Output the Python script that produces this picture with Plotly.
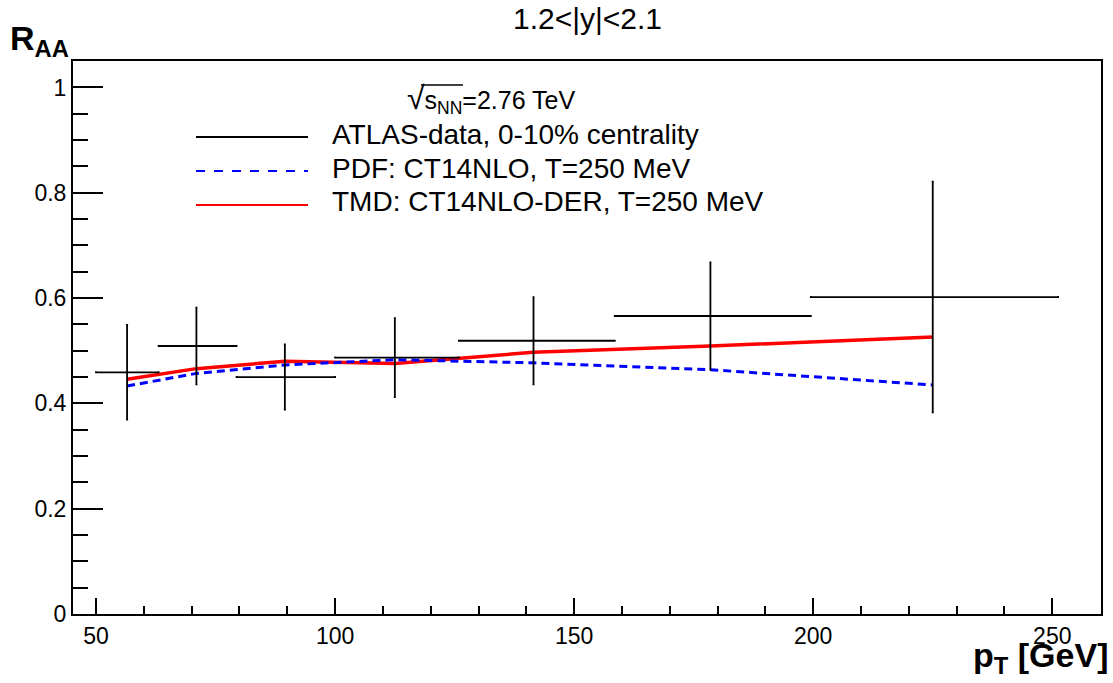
import plotly.graph_objects as go

# ---------------- data ----------------
pt_lo = [50.0, 63.1, 79.4, 100.0, 125.9, 158.5, 199.5]
pt_hi = [63.1, 79.4, 100.0, 125.9, 158.5, 199.5, 251.2]
pt_c = [56.5, 71.0, 89.5, 112.5, 141.5, 178.5, 225.0]
raa = [0.459, 0.509, 0.450, 0.487, 0.519, 0.566, 0.602]
raa_err = [0.090, 0.073, 0.062, 0.075, 0.083, 0.102, 0.219]
pdf_ct14 = [0.433, 0.457, 0.473, 0.483, 0.477, 0.464, 0.435]
tmd_der = [0.446, 0.466, 0.480, 0.476, 0.497, 0.509, 0.526]

x_ticks = [50, 100, 150, 200, 250]
legend_labels = ["ATLAS-data, 0-10% centrality",
                 "PDF: CT14NLO, T=250 MeV",
                 "TMD: CT14NLO-DER, T=250 MeV"]

# ---------------- layout geometry ----------------
W, H = 1113, 683
ML, MR, MT, MB = 73, 12, 61, 69
PW, PH = W - ML - MR, H - MT - MB


def px(x):
    return (x - ML) / PW


def py(y):
    return (H - MB - y) / PH


FONT = "Liberation Sans, Arial, Helvetica, sans-serif"

fig = go.Figure()

fig.add_trace(go.Scatter(
    x=pt_c, y=tmd_der, mode="lines",
    line=dict(color="#ff0000", width=3.5),
    showlegend=False, hoverinfo="skip"))
fig.add_trace(go.Scatter(
    x=pt_c, y=pdf_ct14, mode="lines",
    line=dict(color="#0000ff", width=3, dash="8px,5px"),
    showlegend=False, hoverinfo="skip"))

err_plus = [h - c for h, c in zip(pt_hi, pt_c)]
err_minus = [c - l for l, c in zip(pt_lo, pt_c)]
fig.add_trace(go.Scatter(
    x=pt_c, y=raa, mode="markers",
    marker=dict(color="black", size=1),
    error_x=dict(type="data", symmetric=False, array=err_plus,
                 arrayminus=err_minus, color="black", thickness=1.8, width=1),
    error_y=dict(type="data", array=raa_err, color="black",
                 thickness=1.8, width=1),
    showlegend=False, hoverinfo="skip"))

# ---------------- manual legend (ROOT style) ----------------
leg_y = [137, 171, 205]
leg_styles = [dict(color="black", width=2),
              dict(color="#0000ff", width=2, dash="dash"),
              dict(color="#ff0000", width=2)]
shapes = []
annotations = []
for yy, st, lab in zip(leg_y, leg_styles, legend_labels):
    shapes.append(dict(type="line", xref="paper", yref="paper",
                       x0=px(196), x1=px(308), y0=py(yy), y1=py(yy),
                       line=st))
    annotations.append(dict(text=lab, xref="paper", yref="paper",
                            x=px(330), y=py(yy - 3), xanchor="left",
                            yanchor="middle", showarrow=False,
                            font=dict(family=FONT, size=28, color="black")))

# sqrt(s_NN) label with overline bar
annotations.append(dict(
    text="<span style='font-size:32px'>√</span>s<sub>NN</sub>=2.76 TeV",
    xref="paper", yref="paper", x=px(405), y=py(99), xanchor="left",
    yanchor="middle", showarrow=False,
    font=dict(family=FONT, size=25, color="black")))
shapes.append(dict(type="line", xref="paper", yref="paper",
                   x0=px(421), x1=px(463), y0=py(85), y1=py(85),
                   line=dict(color="black", width=1.5)))

# title
annotations.append(dict(text="1.2<|y|<2.1", xref="paper", yref="paper",
                        x=px(587), y=py(1), xanchor="center",
                        yanchor="top", showarrow=False, borderpad=0,
                        font=dict(family=FONT, size=30, color="black")))
# axis titles
annotations.append(dict(text="<b>R<sub>AA</sub></b>", xref="paper",
                        yref="paper", x=px(8), y=py(40), xanchor="left",
                        yanchor="middle", showarrow=False,
                        font=dict(family=FONT, size=34, color="black")))
annotations.append(dict(text="<b>p<sub>T</sub> [GeV]</b>", xref="paper",
                        yref="paper", x=px(1110), y=py(657), xanchor="right",
                        yanchor="middle", showarrow=False,
                        font=dict(family=FONT, size=34, color="black")))

fig.update_layout(
    width=W, height=H,
    margin=dict(l=ML, r=MR, t=MT, b=MB, pad=0),
    paper_bgcolor="white", plot_bgcolor="white",
    showlegend=False,
    font=dict(family=FONT, size=20, color="black"),
    shapes=shapes, annotations=annotations,
    xaxis=dict(range=[45.19, 260.19], tickvals=x_ticks,
               ticks="inside", ticklen=16, tickwidth=2, tickcolor="black",
               showline=True, linewidth=2, linecolor="black", mirror=True,
               showgrid=False, zeroline=False, automargin=False,
               tickfont=dict(family=FONT, size=23),
               minor=dict(dtick=10, tick0=0, ticks="inside", ticklen=8,
                          tickwidth=2, tickcolor="black", showgrid=False)),
    yaxis=dict(range=[0, 1.0503], dtick=0.2, tick0=0,
               ticks="inside", ticklen=30, tickwidth=2, tickcolor="black",
               showline=True, linewidth=2, linecolor="black", mirror=True,
               showgrid=False, zeroline=False, automargin=False,
               tickfont=dict(family=FONT, size=23),
               minor=dict(dtick=0.05, tick0=0, ticks="inside", ticklen=15,
                          tickwidth=2, tickcolor="black", showgrid=False)),
)

fig.write_html(
    "out.html",
    config={"displayModeBar": False},
    post_script="document.body.style.margin='0';"
                "document.body.style.overflow='hidden';")
